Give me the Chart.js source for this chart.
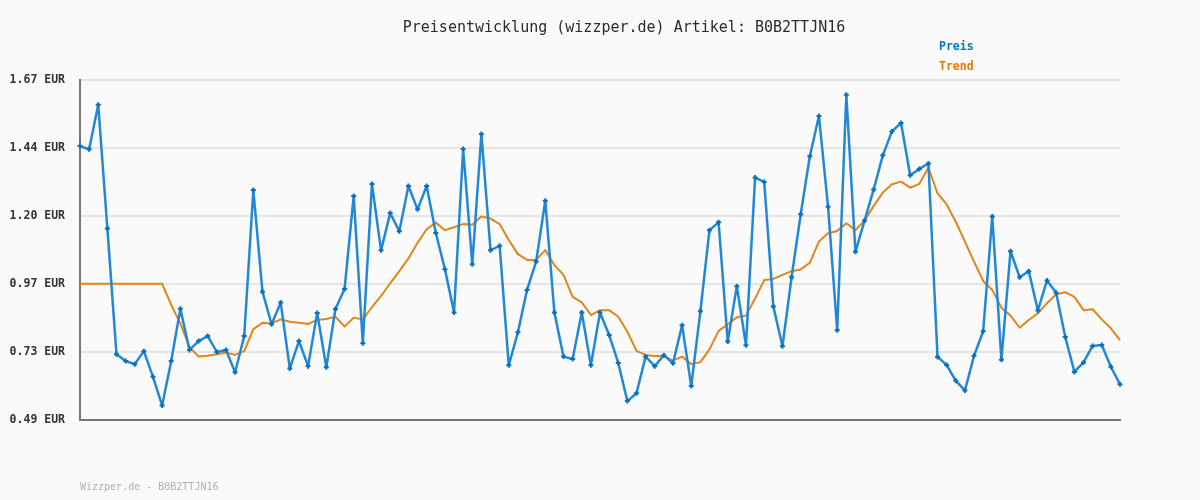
<!DOCTYPE html>
<html>
<head>
<meta charset="utf-8">
<script src="https://cdn.jsdelivr.net/npm/chart.js@4.4.1/dist/chart.umd.min.js"></script>
<style>
  html, body { margin: 0; padding: 0; background: #fafafa; }
  #wrap { width: 1200px; height: 500px; position: relative; }
</style>
</head>
<body>
<div id="wrap"><canvas id="c" width="1200" height="500"></canvas></div>
<script>
const chartTitle = "Preisentwicklung (wizzper.de) Artikel: B0B2TTJN16";
const footerText = "Wizzper.de - B0B2TTJN16";
const seriesNames = ["Preis", "Trend"];

const preis = [1.443,1.432,1.586,1.158,0.722,0.699,0.688,0.733,0.644,0.545,
  0.699,0.880,0.737,0.768,0.785,0.730,0.737,0.660,0.785,1.291,
  0.939,0.826,0.901,0.673,0.768,0.681,0.865,0.677,0.879,0.948,
  1.270,0.760,1.312,1.082,1.211,1.148,1.305,1.224,1.305,1.142,
  1.017,0.867,1.433,1.034,1.485,1.082,1.098,0.684,0.798,0.945,
  1.043,1.254,0.867,0.714,0.706,0.867,0.684,0.867,0.789,0.692,
  0.560,0.587,0.714,0.681,0.719,0.691,0.823,0.612,0.871,1.152,
  1.179,0.766,0.958,0.753,1.334,1.319,0.888,0.750,0.989,1.207,
  1.408,1.547,1.233,0.805,1.621,1.077,1.185,1.293,1.411,1.494,
  1.523,1.342,1.364,1.383,0.713,0.685,0.630,0.597,0.717,0.802,
  1.199,0.703,1.079,0.989,1.010,0.874,0.978,0.935,0.782,0.661,
  0.694,0.751,0.754,0.679,0.618];

const trend = [0.966,0.966,0.966,0.966,0.966,0.966,0.966,0.966,0.966,0.966,
  0.893,0.829,0.748,0.714,0.717,0.722,0.728,0.720,0.733,0.809,
  0.831,0.829,0.843,0.835,0.831,0.827,0.841,0.844,0.852,0.818,
  0.849,0.843,0.885,0.924,0.968,1.010,1.054,1.108,1.155,1.178,
  1.152,1.162,1.173,1.171,1.199,1.192,1.173,1.118,1.069,1.049,
  1.049,1.083,1.031,0.997,0.921,0.902,0.858,0.875,0.875,0.852,
  0.800,0.734,0.720,0.716,0.716,0.700,0.714,0.688,0.695,0.739,
  0.803,0.826,0.850,0.856,0.915,0.979,0.983,0.997,1.010,1.016,
  1.039,1.113,1.141,1.149,1.176,1.152,1.185,1.236,1.282,1.311,
  1.320,1.299,1.312,1.369,1.279,1.241,1.181,1.112,1.043,0.976,
  0.945,0.883,0.856,0.814,0.841,0.864,0.899,0.930,0.937,0.921,
  0.875,0.878,0.843,0.812,0.771];

const categories = preis.map((_, i) => String(i + 1));

const yTickValues = [0.4945, 0.73, 0.9655, 1.201, 1.4365, 1.672];
const yTickLabels = ["0.49 EUR", "0.73 EUR", "0.97 EUR", "1.20 EUR", "1.44 EUR", "1.67 EUR"];

const MONO = '"DejaVu Sans Mono", "Liberation Mono", monospace';

const textPlugin = {
  id: 'texts',
  afterDraw(chart) {
    const ctx = chart.ctx;
    ctx.save();
    ctx.textBaseline = 'middle';
    ctx.textAlign = 'center';
    ctx.fillStyle = '#2a2a2a';
    ctx.font = '15px ' + MONO;
    ctx.fillText(chartTitle, 624, 28);
    ctx.textAlign = 'left';
    ctx.font = 'bold 11.5px ' + MONO;
    ctx.fillStyle = '#0a74c4';
    ctx.fillText(seriesNames[0], 939, 47);
    ctx.fillStyle = '#dc7a0c';
    ctx.fillText(seriesNames[1], 939, 67);
    ctx.font = '10px ' + MONO;
    ctx.fillStyle = '#b0b0b0';
    ctx.fillText(footerText, 80, 487);
    ctx.restore();
  }
};

const bgPlugin = {
  id: 'bg',
  beforeDraw(chart) {
    const ctx = chart.ctx;
    ctx.save();
    ctx.fillStyle = '#fafafa';
    ctx.fillRect(0, 0, chart.width, chart.height);
    ctx.restore();
  }
};

new Chart(document.getElementById('c'), {
  type: 'line',
  data: {
    labels: categories,
    datasets: [
      {
        label: seriesNames[1],
        data: trend,
        borderColor: '#e0861a',
        borderWidth: 2,
        borderJoinStyle: 'round',
        pointRadius: 0,
        tension: 0,
        clip: false,
        order: 2
      },
      {
        label: seriesNames[0],
        data: preis,
        borderColor: '#2288d6',
        borderWidth: 2.5,
        borderJoinStyle: 'round',
        pointStyle: 'cross',
        pointRadius: 2.5,
        pointBorderWidth: 2,
        pointBorderColor: '#0b6fc0',
        pointBackgroundColor: '#0b6fc0',
        tension: 0,
        clip: false,
        order: 1
      }
    ]
  },
  options: {
    responsive: false,
    animation: false,
    layout: { padding: { left: 0, right: 80, top: 80, bottom: 80 } },
    plugins: {
      legend: { display: false },
      title: { display: false },
      tooltip: { enabled: false }
    },
    scales: {
      x: {
        type: 'category',
        offset: false,
        ticks: { display: false },
        grid: { display: false, drawTicks: false },
        border: { display: true, color: '#777777', width: 2 },
        afterFit(scale) { scale.height = 0; }
      },
      y: {
        min: yTickValues[0],
        max: yTickValues[yTickValues.length - 1],
        afterBuildTicks(scale) {
          scale.ticks = yTickValues.map(v => ({ value: v }));
        },
        afterFit(scale) { scale.width = 80; },
        ticks: {
          padding: 15,
          color: '#333333',
          font: { family: MONO, size: 11.5, weight: 'bold' },
          callback(value, index) { return yTickLabels[index]; }
        },
        grid: { color: '#e5e5e5', lineWidth: 2, drawTicks: false },
        border: { display: true, color: '#777777', width: 2 }
      }
    }
  },
  plugins: [bgPlugin, textPlugin]
});
</script>
</body>
</html>
